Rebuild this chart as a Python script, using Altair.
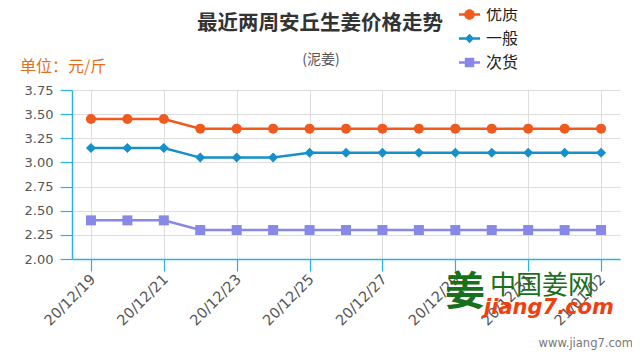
import altair as alt
import pandas as pd

dates = ["20/12/19", "20/12/20", "20/12/21", "20/12/22", "20/12/23", "20/12/24",
         "20/12/25", "20/12/26", "20/12/27", "20/12/28", "20/12/29", "20/12/30",
         "20/12/31", "21/01/01", "21/01/02"]
series_names = ["优质", "一般", "次货"]
youzhi = [3.45, 3.45, 3.45, 3.35, 3.35, 3.35, 3.35, 3.35, 3.35, 3.35, 3.35, 3.35, 3.35, 3.35, 3.35]
yiban = [3.15, 3.15, 3.15, 3.05, 3.05, 3.05, 3.10, 3.10, 3.10, 3.10, 3.10, 3.10, 3.10, 3.10, 3.10]
cihuo = [2.40, 2.40, 2.40, 2.30, 2.30, 2.30, 2.30, 2.30, 2.30, 2.30, 2.30, 2.30, 2.30, 2.30, 2.30]
y_ticks = [2.00, 2.25, 2.50, 2.75, 3.00, 3.25, 3.50, 3.75]

colors = ["#F05A1E", "#1590C9", "#8888E8"]
marker_shapes = ["circle", "diamond", "square"]
legend_shapes = [
    "M-1,-0.13H1V0.13H-1Z M-0.5,0A0.5,0.5 0 1,1 0.5,0A0.5,0.5 0 1,1 -0.5,0Z",
    "M-1,-0.13H1V0.13H-1Z M0,-0.45L0.45,0L0,0.45L-0.45,0Z",
    "M-1,-0.13H1V0.13H-1Z M-0.45,-0.45H0.45V0.45H-0.45Z",
]

rows = []
for name, vals in zip(series_names, [youzhi, yiban, cihuo]):
    for d, v in zip(dates, vals):
        rows.append({"date": d, "price": v, "series": name})
df = pd.DataFrame(rows)

x_enc = alt.X("date:O", sort=dates, title=None,
              scale=alt.Scale(type="point", padding=0.52),
              axis=alt.Axis(values=dates[::2], labelAngle=-45, labelAlign="right",
                            labelBaseline="middle", labelPadding=6, labelOffset=2,
                            tickSize=12,
                            grid=True, gridColor="#dddddd", gridWidth=1,
                            domainColor="#2CB0E4", tickColor="#2CB0E4",
                            domainWidth=1.5, tickWidth=1.2,
                            labelColor="#555555", labelFontSize=14.5,
                            labelFont="DejaVu Sans"))
y_enc = alt.Y("price:Q", title=None,
              scale=alt.Scale(domain=[2.0, 3.75], nice=False, zero=False),
              axis=alt.Axis(values=y_ticks, format=".2f", tickSize=12, labelPadding=7,
                            grid=True, gridColor="#dddddd", gridWidth=1,
                            domainColor="#2CB0E4", tickColor="#2CB0E4",
                            domainWidth=1.5, tickWidth=1.2,
                            labelColor="#555555", labelFontSize=13,
                            labelFont="DejaVu Sans"))
color_scale = alt.Scale(domain=series_names, range=colors)

base = alt.Chart(df)
lines = base.mark_line(strokeWidth=2.5).encode(
    x=x_enc, y=y_enc,
    color=alt.Color("series:N", scale=color_scale, legend=None),
    detail="series:N",
)
points = base.mark_point(filled=True, opacity=1, size=100).encode(
    x=x_enc, y=y_enc,
    color=alt.Color("series:N", scale=color_scale, legend=None),
    shape=alt.Shape("series:N", scale=alt.Scale(domain=series_names, range=marker_shapes), legend=None),
)

legend_df = pd.DataFrame({"series": series_names})
legend_layer = alt.Chart(legend_df).mark_point(filled=True, opacity=1, size=441).encode(
    color=alt.Color("series:N", scale=color_scale, sort=None,
                    legend=alt.Legend(orient="none", legendX=387, legendY=-86, title=None,
                                      labelFontSize=16, labelColor="#222222",
                                      labelFont="Noto Sans CJK SC", labelOffset=6,
                                      rowPadding=5, padding=0, symbolSize=441,
                                      symbolStrokeWidth=0)),
    shape=alt.Shape("series:N", sort=None,
                    scale=alt.Scale(domain=series_names, range=legend_shapes)),
).transform_filter("false")

def label(text, x, y, size, color, weight="normal", align="center", font="Noto Sans CJK SC", italic=False):
    return alt.Chart(pd.DataFrame({"t": [text]})).mark_text(
        fontSize=size, color=color, fontWeight=weight, align=align, baseline="middle",
        font=font, fontStyle="italic" if italic else "normal",
    ).encode(text="t:N", x=alt.value(x), y=alt.value(y))

title = label("最近两周安丘生姜价格走势", 248, -66, 20.5, "#333333", weight="bold")
subtitle = label("(泥姜)", 249, -30, 14, "#555555")
unit = label("单位：元/斤", -52, -23, 16, "#E0701B", align="left")
logo = label("姜", 393, 203, 40, "#17701C", weight="bold")
wm1 = label("中国姜网", 418, 196, 26, "#1B6E1B", align="left")
wm2 = label("jiang7.com", 412, 218, 21, "#F0400E", weight="bold", align="left",
            font="DejaVu Sans", italic=True)
wm3 = label("www.jiang7.com", 561, 254, 11.5, "#777777", align="right", font="DejaVu Sans")

chart = alt.layer(lines, points, legend_layer, title, subtitle, unit, logo, wm1, wm2, wm3).resolve_scale(
    color="independent", shape="independent"
).properties(
    width=548, height=169,
    autosize=alt.AutoSizeParams(type="none"),
    padding={"left": 64, "top": 82, "right": 12, "bottom": 93},
).configure_view(stroke=None)

chart.save("out.html", embed_options={"renderer": "svg", "actions": False})
